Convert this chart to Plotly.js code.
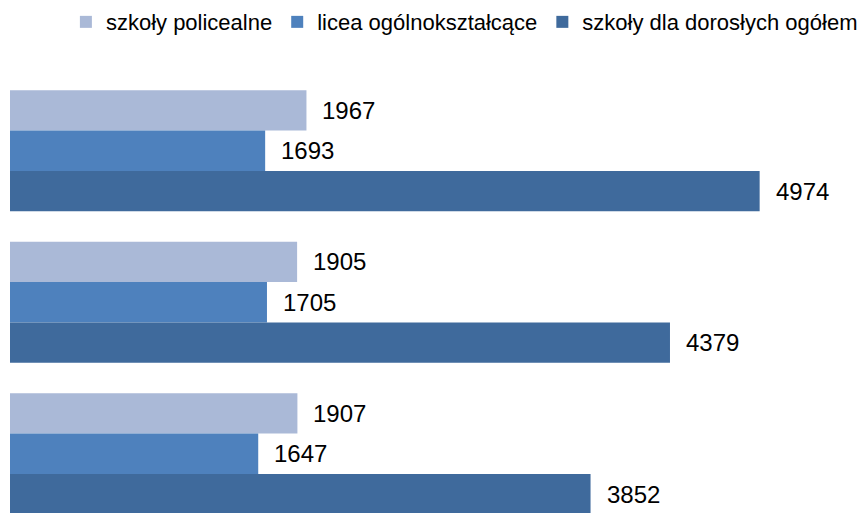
<!DOCTYPE html>
<html>
<head>
<meta charset="utf-8">
<script src="https://cdn.plot.ly/plotly-3.0.1.min.js"></script>
<style>html,body{margin:0;padding:0;background:#fff;}#chart{width:867px;height:513px;}</style>
</head>
<body>
<div id="chart"></div>
<script>
const categories = ["grupa 1", "grupa 2", "grupa 3"];
const seriesNames = ["szkoły policealne", "licea ogólnokształcące", "szkoły dla dorosłych ogółem"];
const policealne = [1967, 1905, 1907];
const licea = [1693, 1705, 1647];
const dorosli = [4974, 4379, 3852];
const colors = ["#AAB9D7", "#4E81BD", "#3F6A9C"];

const FONT = "'Liberation Sans', Arial, sans-serif";
const series = [policealne, licea, dorosli];
const bargap = 0.2;
const w = (1 - bargap) / series.length;

const traces = series.map((vals, i) => ({
  type: 'bar',
  orientation: 'h',
  name: seriesNames[i],
  x: vals,
  y: categories,
  marker: {color: colors[i], line: {width: 0}},
  hoverinfo: 'none'
}));

const annotations = [];
series.forEach((vals, i) => {
  vals.forEach((v, j) => {
    annotations.push({
      x: v, y: j + (i - (series.length - 1) / 2) * w,
      xref: 'x', yref: 'y',
      text: String(v), showarrow: false,
      xanchor: 'left', yanchor: 'middle', xshift: 14,
      font: {family: FONT, size: 24, color: '#000'}
    });
  });
});

const layout = {
  width: 867, height: 513,
  margin: {l: 10, r: 13, t: 75, b: 0},
  paper_bgcolor: '#fff', plot_bgcolor: '#fff',
  barmode: 'group', bargap: bargap, bargroupgap: 0,
  showlegend: true,
  legend: {
    orientation: 'h', xref: 'container', yref: 'container',
    x: 0.076, xanchor: 'left', y: 0.957, yanchor: 'middle',
    font: {family: FONT, size: 22, color: '#000'},
    traceorder: 'normal', bgcolor: 'rgba(0,0,0,0)'
  },
  xaxis: {range: [0, 5600], visible: false, showgrid: false, zeroline: false},
  yaxis: {type: 'category', range: [2.391, -0.5], visible: false, showgrid: false, zeroline: false},
  annotations: annotations
};

Plotly.newPlot('chart', traces, layout, {staticPlot: true, displayModeBar: false});
</script>
</body>
</html>
